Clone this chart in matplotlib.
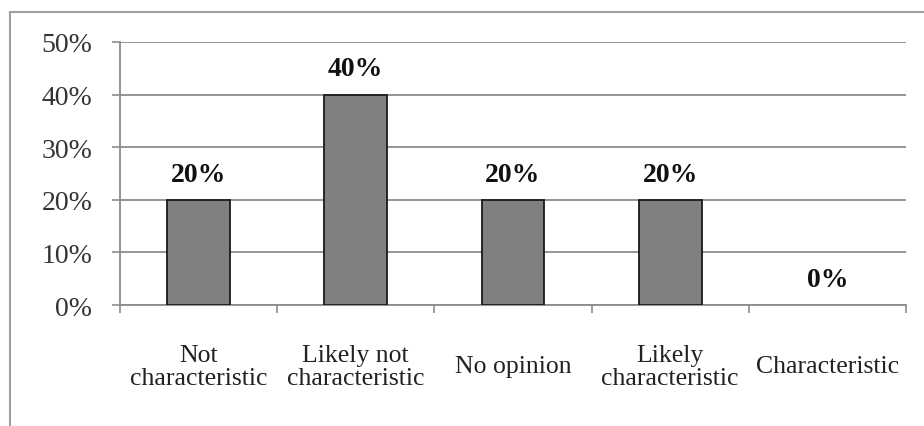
import matplotlib
matplotlib.use("Agg")
import matplotlib.pyplot as plt
from matplotlib.patches import Rectangle
from matplotlib.ticker import FixedLocator

categories = ["Not\ncharacteristic", "Likely not\ncharacteristic", "No opinion",
              "Likely\ncharacteristic", "Characteristic"]
shares = [20, 40, 20, 20, 0]
y_ticks = [0, 10, 20, 30, 40, 50]
y_tick_labels = ["0%", "10%", "20%", "30%", "40%", "50%"]

plt.rcParams["font.family"] = ["Liberation Serif", "DejaVu Serif"]

fig = plt.figure(figsize=(9.24, 4.27), dpi=100)
fig.patch.set_facecolor("white")

# outer chart frame (runs off the right and bottom edges)
fig.patches.append(Rectangle((10 / 924, -0.1), 1.2, 1 - 13 / 427 + 0.1,
                             transform=fig.transFigure, fill=False,
                             edgecolor="#a0a0a0", linewidth=1.5, zorder=0))

ax = fig.add_axes([120 / 924, 1 - 306 / 427, (906 - 120) / 924, (306 - 43) / 427])

x = list(range(len(categories)))
edge_colors = ["#1a1a1a" if v > 0 else "none" for v in shares]
ax.bar(x, shares, width=0.4, color="#7f8181", edgecolor=edge_colors,
       linewidth=1.3, zorder=3)

for xi, v in zip(x, shares):
    ax.annotate(f"{v}%", (xi, v), xytext=(0, 18.5), textcoords="offset points",
                ha="center", va="center", fontsize=20, fontweight="bold",
                color="#111111")

ax.set_xlim(-0.5, len(categories) - 0.5)
ax.set_ylim(0, 50)

ax.set_yticks(y_ticks)
ax.set_yticklabels(y_tick_labels)
ax.yaxis.grid(True, color="#8c8c8c", linewidth=1.3, zorder=0)
ax.tick_params(axis="y", direction="out", length=6, width=1.2, color="#8c8c8c",
               pad=14, labelsize=20, labelcolor="#333333")

ax.set_xticks(x)
ax.set_xticklabels(categories, fontsize=18.5, color="#222222",
                   va="center", linespacing=1.07)
ax.tick_params(axis="x", which="major", length=0, pad=44)
ax.xaxis.set_minor_locator(FixedLocator([i + 0.5 for i in range(-1, len(categories))]))
ax.tick_params(axis="x", which="minor", direction="out", length=6, width=1.2,
               color="#8c8c8c")

for side in ("top", "right"):
    ax.spines[side].set_visible(False)
for side in ("left", "bottom"):
    ax.spines[side].set_color("#8c8c8c")
    ax.spines[side].set_linewidth(1.3)

fig.savefig("out.png", dpi=100, facecolor="white")
